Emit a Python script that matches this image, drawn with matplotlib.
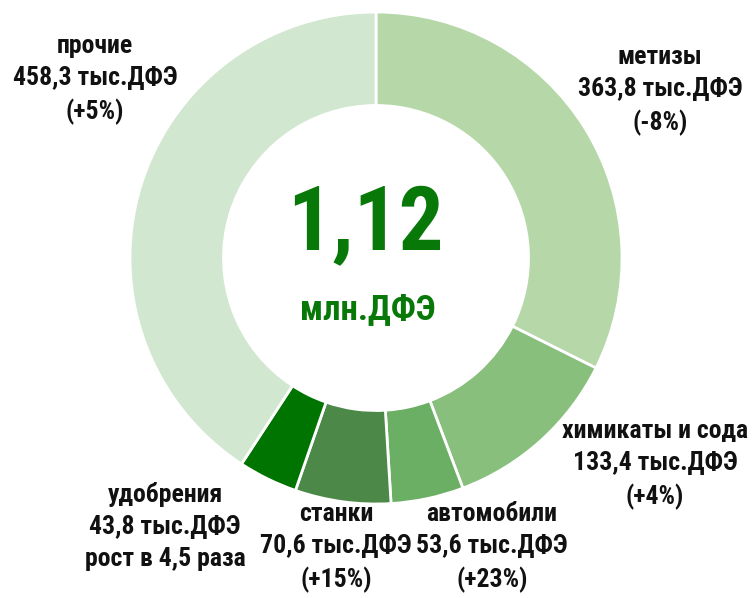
import matplotlib.pyplot as plt
from matplotlib import font_manager

# данные
categories = ["метизы", "химикаты и сода", "автомобили", "станки", "удобрения", "прочие"]
values = [363.8, 133.4, 53.6, 70.6, 43.8, 458.3]
changes = ["(-8%)", "(+4%)", "(+23%)", "(+15%)", "рост в 4,5 раза", "(+5%)"]
colors = ["#b6d7a8", "#88bf7d", "#6aaf64", "#4c8949", "#007400", "#d2e7d0"]
total_label = "1,12"
total_unit = "млн.ДФЭ"

names = {f.name for f in font_manager.fontManager.ttflist}
fam = "Roboto Condensed" if "Roboto Condensed" in names else "DejaVu Sans"
plt.rcParams["font.family"] = [fam, "DejaVu Sans"]

W, H = 756, 598
cx, cy, R = 376, 258, 246

fig = plt.figure(figsize=(7.56, 5.98), dpi=100)
ax = fig.add_axes([0, 0, 1, 1])
ax.pie(values, colors=colors, startangle=90, counterclock=False, radius=1,
       wedgeprops=dict(width=0.38, edgecolor="white", linewidth=2))
ax.set_xlim(-cx / R, (W - cx) / R)
ax.set_ylim(-(H - cy) / R, cy / R)
ax.axis("off")

def fx(x):
    return x / W

def fy(y):
    return 1 - y / H

# подписи: (центр x, верхняя строка y) в пикселях
label_pos = [(660, 58), (655, 432), (492, 515), (336, 515), (165, 495), (95, 47)]
for name, v, ch, (x, y) in zip(categories, values, changes, label_pos):
    txt = f"{name}\n{v:.1f}".replace(".", ",") + " тыс.ДФЭ\n" + ch
    fig.text(fx(x), fy(y - 13), txt, ha="center", va="top", fontsize=18.5,
             fontweight="bold", color="#111111", linespacing=1.42)

fig.text(fx(365), fy(226), total_label, ha="center", va="center", fontsize=64,
         fontweight="bold", color="#087808")
fig.text(fx(368), fy(310), total_unit, ha="center", va="center", fontsize=25,
         fontweight="bold", color="#087808")

fig.savefig("out.png", dpi=100)
